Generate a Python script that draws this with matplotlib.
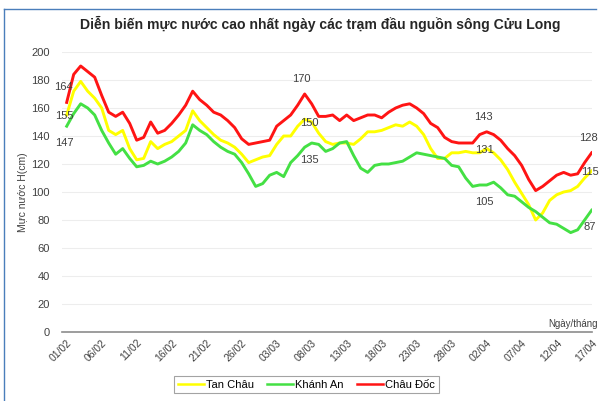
import numpy as np
import matplotlib
matplotlib.use("Agg")
import matplotlib.pyplot as plt
from matplotlib.lines import Line2D

plt.rcParams['font.family'] = ['Liberation Sans', 'DejaVu Sans']

title = "Diễn biến mực nước cao nhất ngày các trạm đầu nguồn sông Cửu Long"
tick_labels = ["01/02", "06/02", "11/02", "16/02", "21/02", "26/02", "03/03", "08/03",
               "13/03", "18/03", "23/03", "28/03", "02/04", "07/04", "12/04", "17/04"]

# muc nuoc cao nhat ngay (cm), 01/02 -> 17/04
chau_doc = [164, 184, 190, 186, 182, 169, 157, 154, 157, 149, 137, 139, 150, 142, 144, 149,
            155, 162, 172, 166, 162, 157, 155, 151, 146, 138, 134, 135, 136, 137, 147, 151,
            155, 162, 170, 163, 154, 154, 155, 151, 155, 151, 153, 155, 155, 153, 157, 160,
            162, 163, 160, 156, 149, 146, 139, 136, 135, 135, 135, 141, 143, 141, 137, 131,
            126, 119, 109, 101, 104, 108, 112, 114, 112, 113, 121, 128]
tan_chau = [155, 172, 179, 172, 167, 160, 144, 141, 144, 131, 123, 124, 136, 131, 134, 136,
            140, 144, 158, 151, 146, 141, 137, 135, 132, 127, 121, 123, 125, 126, 134, 140,
            140, 147, 152, 150, 142, 136, 134, 135, 135, 134, 138, 143, 143, 144, 146, 148,
            147, 150, 147, 141, 131, 124, 124, 128, 128, 129, 128, 128, 131, 128, 123, 116,
            107, 99, 91, 80, 85, 94, 98, 100, 101, 104, 110, 115]
khanh_an = [147, 156, 163, 160, 155, 144, 135, 127, 131, 124, 118, 119, 122, 120, 122, 125,
            129, 135, 148, 144, 141, 136, 132, 129, 127, 121, 113, 104, 106, 112, 114, 111,
            121, 126, 132, 135, 134, 129, 131, 135, 136, 126, 117, 114, 119, 120, 120, 121,
            122, 125, 128, 127, 126, 125, 124, 119, 118, 110, 104, 105, 105, 107, 103, 98,
            97, 93, 89, 86, 82, 78, 77, 74, 71, 73, 80, 87]

series = [("Tan Châu", tan_chau, "#FFFF00", [0, 35, 60, 75], (-2, -1)),
          ("Khánh An", khanh_an, "#44E044", [0, 35, 60, 75], (-2, -17)),
          ("Châu Đốc", chau_doc, "#FF1414", [0, 34, 60, 75], (-3, 15))]

fig = plt.figure(figsize=(6.01, 4.01), dpi=100)
ax = fig.add_axes([62 / 601, 1 - 332 / 401, 530 / 601, 280 / 401])

x = np.arange(len(chau_doc))
for name, vals, col, lab_idx, off in series:
    ax.plot(x, vals, color=col, lw=2.1, label=name, solid_joinstyle='round')
    for i in lab_idx:
        ax.annotate(str(vals[i]), (x[i], vals[i]), xytext=(off[0] * 0.72, off[1] * 0.72),
                    textcoords='offset points', ha='center', va='center',
                    fontsize=8, color='#404040')

ax.set_ylim(0, 200)
ax.set_xlim(-0.67, 75.05)
ax.set_yticks(np.arange(0, 201, 20))
ax.set_xticks(x[::5])
ax.set_xticklabels(tick_labels, rotation=45, ha='right', rotation_mode='anchor')
ax.tick_params(axis='x', length=0, labelsize=7.5, labelcolor='#404040', pad=4)
ax.tick_params(axis='y', length=0, labelsize=8, labelcolor='#404040', pad=9)
ax.grid(axis='y', color='#EDEDED', lw=0.8)
ax.set_axisbelow(True)
for s in ['left', 'right', 'top']:
    ax.spines[s].set_visible(False)
ax.spines['bottom'].set_color('#8C8C8C')
ax.spines['bottom'].set_linewidth(1.2)

ax.set_ylabel("Mực nước H(cm)", fontsize=7.5, color='#404040')
ax.yaxis.set_label_coords(-34 / 530, 0.5)
fig.text(598 / 601, 1 - 324 / 401, "Ngày/tháng", fontsize=7, color='#404040',
         ha='right', va='center')

fig.text(320 / 601, 1 - 24 / 401, title, fontsize=10.1, fontweight='bold',
         color='#262626', ha='center', va='center')

leg = fig.legend(loc='center', bbox_to_anchor=(306.5 / 601, 1 - 384.5 / 401), ncol=3,
                 fontsize=8, frameon=True, fancybox=False, handlelength=2.3,
                 handletextpad=0.2, columnspacing=1.2, borderpad=0.35)
leg.get_frame().set_edgecolor('#8C8C8C')
leg.get_frame().set_linewidth(0.8)
for h in leg.get_lines():
    h.set_linewidth(1.8)

# khung xanh cua bieu do
fig.add_artist(Line2D([4 / 601, 4 / 601], [0, 1 - 9 / 401], color='#4A7EBB', lw=1))
fig.add_artist(Line2D([4 / 601, 596 / 601], [1 - 9 / 401, 1 - 9 / 401], color='#4A7EBB', lw=1))

fig.savefig("out.png", dpi=100)
